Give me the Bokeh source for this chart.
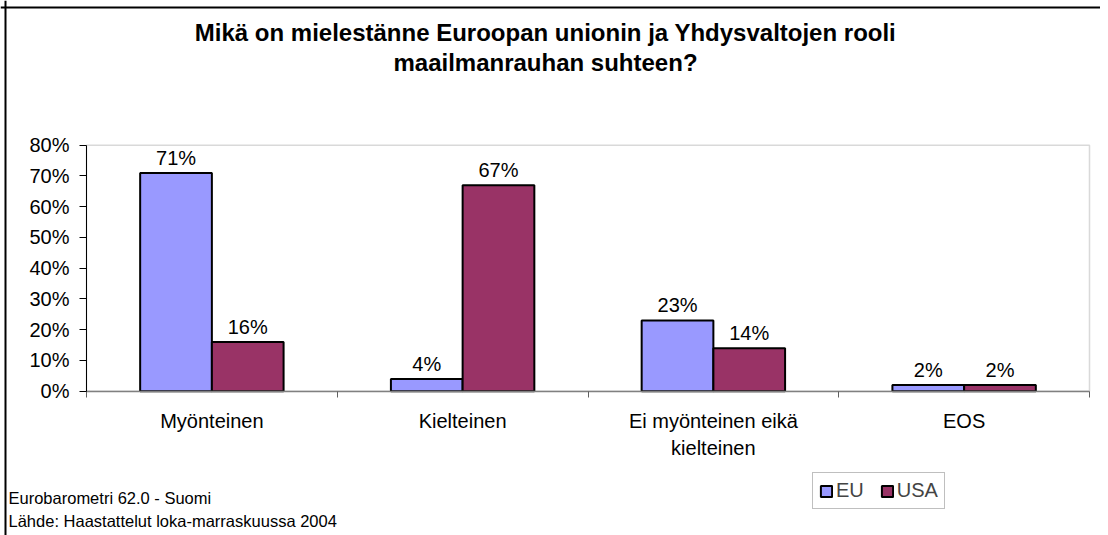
import numpy as np
from bokeh.plotting import figure
from bokeh.models import (ColumnDataSource, Range1d, FixedTicker, PrintfTickFormatter,
                          Label, Legend, LegendItem, LinearAxis, BoxAnnotation, Span)
from bokeh.transform import dodge
from bokeh.core.properties import value
from bokeh.embed import file_html
from bokeh.resources import INLINE

categories = ["Myönteinen", "Kielteinen", "Ei myönteinen eikä\nkielteinen", "EOS"]
eu = [71, 4, 23, 2]
usa = [16, 67, 14, 2]
series_names = ["EU", "USA"]
y_ticks = [0, 10, 20, 30, 40, 50, 60, 70, 80]
title_lines = ["Mikä on mielestänne Euroopan unionin ja Yhdysvaltojen rooli",
               "maailmanrauhan suhteen?"]
footer_lines = ["Eurobarometri 62.0 - Suomi",
                "Lähde: Haastattelut loka-marraskuussa 2004"]

FONT = "Liberation Sans"
EU_COLOR = "#9999FF"
USA_COLOR = "#993366"

# ---- layout (picture pixels) ----
M = 0                 # observed offset of the canvas in the picture
W, H = 1100, 535      # canvas size
PL, PR = 86.0, 1089.0     # plot area left / right
PT, PB = 144.7, 390.7     # plot area top / bottom
NCAT = len(categories)
YMAX = 80

sx = (PR - PL) / NCAT
sy = (PB - PT) / YMAX
cl, cb = PL - M, PB - M   # canvas coords of data origin
x_range = Range1d(-cl / sx, NCAT + (W - (PR - M)) / sx)
y_range = Range1d(-(H - cb) / sy, YMAX + (PT - M) / sy)


def dx(px):
    return (px - PL) / sx


def dy(py):
    return (PB - py) / sy


centers = list(np.arange(NCAT) + 0.5)
src = ColumnDataSource(dict(
    x=centers, eu=eu, usa=usa,
    eu_lbl=[f"{v}%" for v in eu], usa_lbl=[f"{v}%" for v in usa],
))

p = figure(width=W, height=H, output_backend="svg", toolbar_location=None,
           x_range=x_range, y_range=y_range, x_axis_location=None, y_axis_location=None,
           min_border=0)
p.grid.visible = False
p.outline_line_color = None
p.background_fill_color = "white"
p.border_fill_color = "white"

# plot-area frame (grey)
p.add_layout(BoxAnnotation(left=0, right=NCAT, bottom=0, top=YMAX, fill_alpha=0,
                           line_color="#808080", line_width=1.5, level="underlay"))
# outer chart border (top and left)
p.add_layout(Span(location=dy(7), dimension="width", line_color="black", line_width=2))
p.add_layout(Span(location=dx(5), dimension="height", line_color="black", line_width=2))

bw = 0.286
r_eu = p.vbar(x=dodge("x", -bw / 2, range=p.x_range), top="eu", width=bw, source=src,
              fill_color=EU_COLOR, line_color="black", line_width=2)
r_usa = p.vbar(x=dodge("x", bw / 2, range=p.x_range), top="usa", width=bw, source=src,
               fill_color=USA_COLOR, line_color="black", line_width=2)

for off, col in [(-bw / 2, "eu"), (bw / 2, "usa")]:
    p.text(x=dodge("x", off, range=p.x_range), y=col, text=col + "_lbl", source=src,
           text_align="center", text_baseline="bottom", y_offset=-4,
           text_font=value(FONT), text_font_size="20px", text_color="black")

# y axis
yax = LinearAxis(fixed_location=0, bounds=(0, YMAX))
yax.ticker = FixedTicker(ticks=y_ticks)
yax.formatter = PrintfTickFormatter(format="%d%%")
yax.axis_line_color = "black"
yax.major_tick_line_color = "black"
yax.major_tick_out = 7
yax.major_tick_in = 0
yax.minor_tick_line_color = None
yax.major_label_text_font = FONT
yax.major_label_text_font_size = "20px"
yax.major_label_text_color = "black"
yax.major_label_standoff = 10
p.add_layout(yax, "left")

# x axis: labels at category centres, ticks at boundaries
xax = LinearAxis(fixed_location=0, bounds=(0, NCAT))
xax.ticker = FixedTicker(ticks=centers, minor_ticks=list(range(NCAT + 1)))
xax.major_label_overrides = {c: lab for c, lab in zip(centers, categories)}
xax.axis_line_color = "#808080"
xax.axis_line_width = 1.5
xax.major_tick_out = 0
xax.major_tick_in = 0
xax.minor_tick_line_color = "#606060"
xax.minor_tick_out = 6
xax.minor_tick_in = 0
xax.major_label_text_font = FONT
xax.major_label_text_font_size = "20px"
xax.major_label_text_color = "black"
xax.major_label_standoff = 13
p.add_layout(xax, "below")

# title lines
for t, ypg in zip(title_lines, [32, 62]):
    p.add_layout(Label(x=dx(545), y=dy(ypg), text=t,
                       text_align="center", text_baseline="middle", text_font=FONT,
                       text_font_size="24px", text_font_style="bold", text_color="black"))

for t, ypg in zip(footer_lines, [497, 520]):
    p.add_layout(Label(x=dx(8), y=dy(ypg), text=t,
                       text_align="left", text_baseline="middle", text_font=FONT,
                       text_font_size="16.5px", text_color="black"))

legend = Legend(items=[LegendItem(label=series_names[0], renderers=[r_eu]),
                       LegendItem(label=series_names[1], renderers=[r_usa])],
                orientation="horizontal", location=(812 - M, H - (509 - M)))
legend.border_line_color = "#808080"
legend.border_line_width = 1.5
legend.label_text_font = FONT
legend.label_text_font_size = "20px"
legend.glyph_width = 14
legend.glyph_height = 14
legend.spacing = 16
legend.padding = 6
legend.margin = 0
legend.label_standoff = 3
legend.background_fill_alpha = 1
p.add_layout(legend, "center")

open("out.html", "w").write(file_html(p, INLINE))
